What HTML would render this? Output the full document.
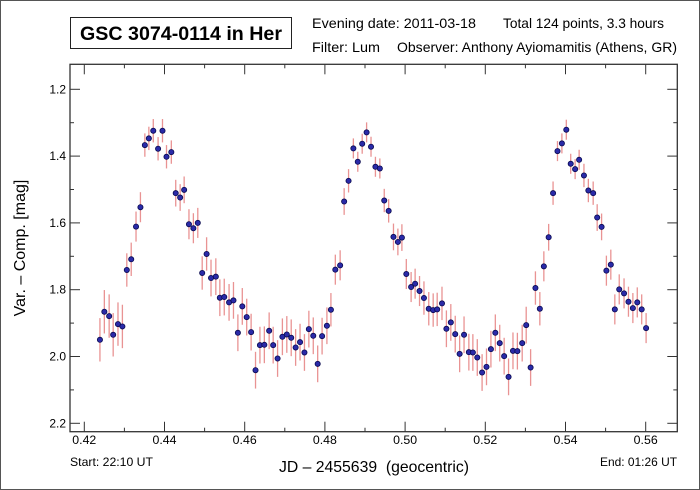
<!DOCTYPE html>
<html><head><meta charset="utf-8"><style>
html,body{margin:0;padding:0;background:#fff}
svg{display:block;font-family:"Liberation Sans",Arial,sans-serif}
</style></head><body>
<svg id="chart" width="700" height="490" viewBox="0 0 700 490" xmlns="http://www.w3.org/2000/svg">
<rect x="0.5" y="0.5" width="699" height="489" fill="#fff" stroke="#555" stroke-width="1"/>
<rect x="70.5" y="17.5" width="221" height="31" fill="#fff" stroke="#222" stroke-width="1"/>
<text x="80" y="40" font-size="19" font-weight="bold" fill="#000" textLength="202" lengthAdjust="spacingAndGlyphs">GSC 3074-0114 in Her</text>
<text x="312" y="28" font-size="14" fill="#000" textLength="164" lengthAdjust="spacingAndGlyphs">Evening date: 2011-03-18</text>
<text x="503" y="28" font-size="14" fill="#000" textLength="161" lengthAdjust="spacingAndGlyphs">Total 124 points, 3.3 hours</text>
<text x="312" y="52" font-size="14" fill="#000" textLength="68" lengthAdjust="spacingAndGlyphs">Filter: Lum</text>
<text x="397" y="52" font-size="14" fill="#000" textLength="280" lengthAdjust="spacingAndGlyphs">Observer: Anthony Ayiomamitis (Athens, GR)</text>
<g id="axes"></g>
<g id="marks"></g>
<rect x="70" y="64.3" width="607.3" height="367.4" fill="none" stroke="#333" stroke-width="1.3"/>
<text x="279" y="472" font-size="16" fill="#000" textLength="190" lengthAdjust="spacingAndGlyphs">JD – 2455639&#160;&#160;(geocentric)</text>
<text transform="translate(25,248) rotate(-90)" text-anchor="middle" font-size="16" fill="#000">Var. – Comp. [mag]</text>
<text x="70" y="466" font-size="12" fill="#000" textLength="83" lengthAdjust="spacingAndGlyphs">Start: 22:10 UT</text>
<text x="600" y="466" font-size="12" fill="#000" textLength="77" lengthAdjust="spacingAndGlyphs">End: 01:26 UT</text>
</svg>
<script>
const jd = [.4239,.4250,.4262,.4272,.4284,.4295,.4306,.4317,.4329,.4340,
.4351,.4361,.4372,.4384,.4395,.4405,.4417,.4428,.4439,.4449,
.4461,.4472,.4483,.4494,.4505,.4516,.4528,.4538,.4549,.4561,
.4572,.4583,.4594,.4605,.4616,.4627,.4638,.4649,.4661,.4671,
.4682,.4694,.4705,.4716,.4727,.4738,.4749,.4760,.4771,.4782,
.4793,.4805,.4815,.4826,.4838,.4848,.4859,.4871,.4882,.4893,
.4904,.4915,.4926,.4937,.4948,.4959,.4971,.4982,.4992,.5003,
.5015,.5025,.5036,.5047,.5059,.5070,.5080,.5092,.5103,.5114,
.5125,.5136,.5147,.5159,.5169,.5180,.5192,.5203,.5214,.5225,
.5236,.5247,.5258,.5269,.5280,.5292,.5302,.5313,.5325,.5336,
.5346,.5358,.5369,.5380,.5391,.5402,.5413,.5424,.5434,.5446,
.5457,.5469,.5479,.5490,.5502,.5513,.5523,.5534,.5546,.5557,
.5568,.5579,.5590,.5601];
const mag = [1.950,1.866,1.879,1.935,1.903,1.910,1.741,1.709,1.611,1.553,
1.367,1.347,1.324,1.378,1.324,1.402,1.388,1.511,1.524,1.501,
1.604,1.616,1.600,1.750,1.693,1.765,1.761,1.824,1.822,1.838,
1.832,1.929,1.850,1.882,1.927,2.041,1.966,1.965,1.923,1.966,
2.006,1.941,1.934,1.944,1.973,1.957,1.988,1.918,1.938,2.022,
1.939,1.908,1.860,1.740,1.727,1.536,1.474,1.377,1.417,1.363,
1.329,1.372,1.432,1.437,1.533,1.564,1.642,1.657,1.644,1.753,
1.792,1.782,1.804,1.825,1.857,1.861,1.859,1.841,1.917,1.898,
1.933,1.992,1.935,1.987,1.988,2.003,2.048,2.031,1.978,1.929,
1.960,1.999,2.061,1.983,1.984,1.960,1.906,2.033,1.795,1.857,
1.730,1.643,1.511,1.385,1.362,1.321,1.423,1.439,1.411,1.458,
1.503,1.511,1.584,1.612,1.743,1.725,1.859,1.799,1.811,1.836,
1.855,1.838,1.859,1.915];
const err = [.065,.065,.065,.065,.065,.065,.05,.05,.045,.045,
.035,.035,.035,.035,.035,.035,.035,.04,.04,.04,
.045,.045,.045,.05,.05,.055,.055,.055,.055,.055,
.055,.055,.055,.055,.055,.055,.055,.055,.055,.055,
.055,.055,.055,.055,.055,.055,.055,.055,.055,.055,
.055,.055,.05,.045,.045,.04,.035,.03,.03,.03,
.03,.03,.03,.03,.035,.035,.04,.04,.04,.045,
.045,.045,.045,.05,.05,.05,.05,.05,.055,.055,
.055,.055,.055,.055,.055,.055,.055,.055,.055,.055,
.055,.055,.055,.055,.055,.055,.055,.055,.05,.05,
.045,.04,.035,.03,.03,.03,.03,.03,.03,.035,
.035,.035,.04,.04,.045,.045,.045,.045,.045,.045,
.045,.045,.045,.045];
const xTickLabels = ["0.42","0.44","0.46","0.48","0.50","0.52","0.54","0.56"];
const yTickLabels = ["1.2","1.4","1.6","1.8","2.0","2.2"];

const NS = "http://www.w3.org/2000/svg";
const X0 = 70, X1 = 677.3, Y0 = 64.3, Y1 = 431.7;
function xs(v){ return 84.3 + (v - 0.42) * 4010; }
function ys(v){ return 89.3 + (v - 1.2) * 334; }
function mk(tag, attrs, parent){
  const e = document.createElementNS(NS, tag);
  for (const k in attrs) e.setAttribute(k, attrs[k]);
  parent.appendChild(e);
  return e;
}
const axes = document.getElementById("axes");
const marks = document.getElementById("marks");

for (let i = 0; i <= 15; i++) {
  const x = xs(0.42 + i * 0.01);
  if (x > X1) break;
  const len = (i % 2 === 0) ? 10 : 4;
  const t1 = mk("line", {x1:x, x2:x, y1:Y1, y2:Y1-len, stroke:"#333", "stroke-width":1}, axes);
  
  
  const t2 = mk("line", {x1:x, x2:x, y1:Y0, y2:Y0+len, stroke:"#333", "stroke-width":1}, axes);
  
  
}
xTickLabels.forEach(function(s){
  const t = mk("text", {x:xs(parseFloat(s)), y:444, "text-anchor":"middle", "font-size":12, fill:"#000", textLength:24, lengthAdjust:"spacingAndGlyphs"}, axes);
  t.textContent = s;
  
  
});
for (let i = 0; i <= 11; i++) {
  const y = ys(1.1 + i * 0.1);
  if (y < Y0 || y > Y1) continue;
  const len = (i % 2 === 1) ? 10 : 4;
  const t1 = mk("line", {x1:X0, x2:X0+len, y1:y, y2:y, stroke:"#333", "stroke-width":1}, axes);
  
  
  const t2 = mk("line", {x1:X1, x2:X1-len, y1:y, y2:y, stroke:"#333", "stroke-width":1}, axes);
  
  
}
yTickLabels.forEach(function(s){
  const t = mk("text", {x:66, y:ys(parseFloat(s))+4, "text-anchor":"end", "font-size":12, fill:"#000"}, axes);
  t.textContent = s;
  
  
});
for (let i = 0; i < jd.length; i++) {
  const x = xs(jd[i]);
  const e = mk("line", {x1:x, x2:x, y1:ys(mag[i]-err[i]), y2:ys(mag[i]+err[i]), stroke:"#e58080", "stroke-width":1.3, "stroke-opacity":0.85}, marks);
  
  
}
for (let i = 0; i < jd.length; i++) {
  const c = mk("circle", {cx:xs(jd[i]), cy:ys(mag[i]), r:2.6, fill:"#2a2aa8", stroke:"#0a0a50", "stroke-width":0.8}, marks);
  
  
}
</script>
</body></html>
